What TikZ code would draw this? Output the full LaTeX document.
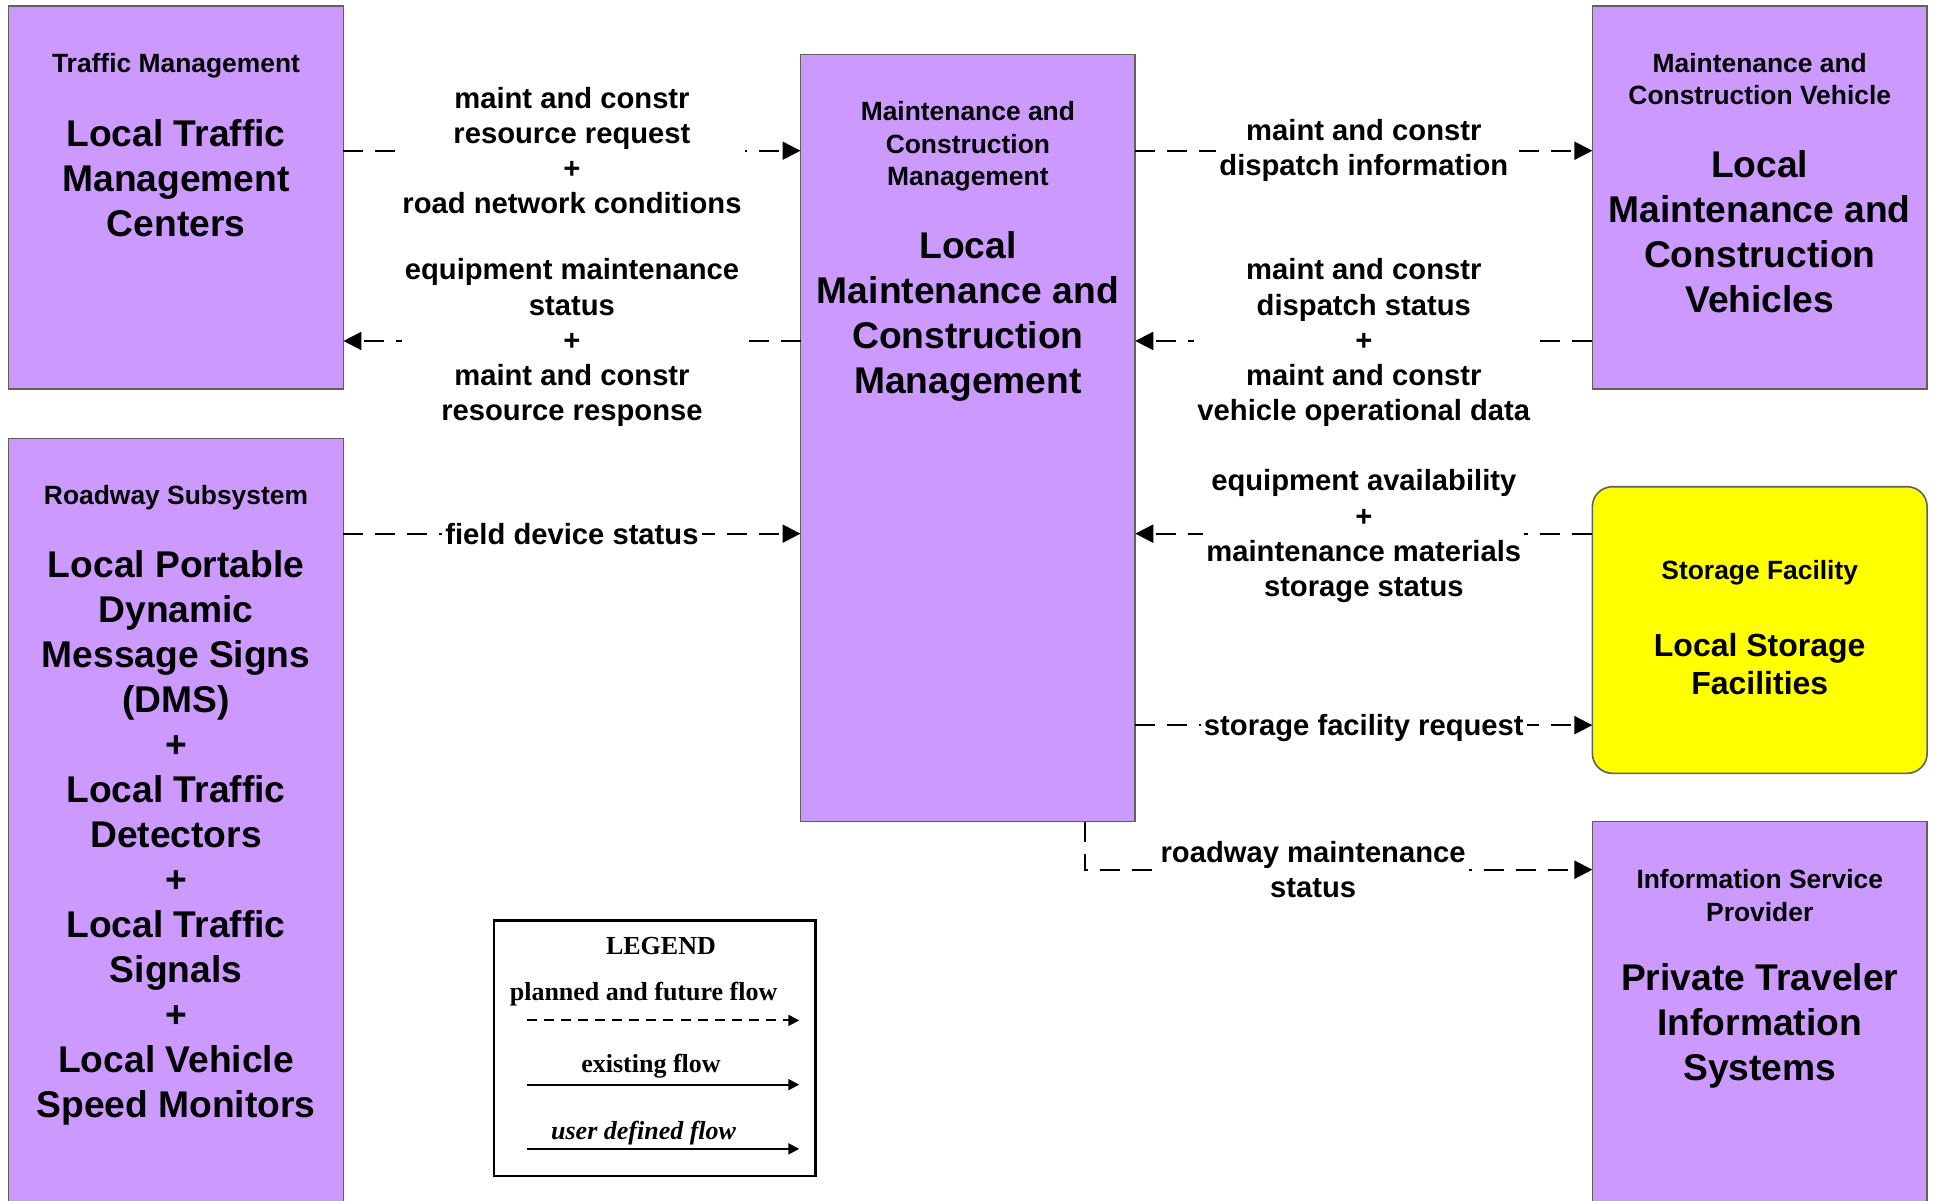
\documentclass[tikz,border=0pt]{standalone}
\usepackage{fontspec}
\setmainfont{Liberation Sans}
\newfontfamily\legfont{Liberation Serif}
\usetikzlibrary{arrows.meta,calc}
\definecolor{boxpurple}{RGB}{204,153,255}
\definecolor{boxyellow}{RGB}{255,255,0}
\definecolor{boxedge}{RGB}{96,96,96}
\begin{document}
\begin{tikzpicture}[x=0.61765pt,y=-0.61765pt,
  box/.style={draw=boxedge,line width=0.8pt,fill=boxpurple,inner sep=0pt,outer sep=0pt,minimum width=271*0.61765pt},
  smallt/.style={font=\fontsize{13.2}{16.1}\selectfont\bfseries,align=center,inner sep=0pt},
  bigt/.style={font=\fontsize{18.6}{22.5}\selectfont\bfseries,align=center,inner sep=0pt},
  midt/.style={font=\fontsize{16}{19.1}\selectfont\bfseries,align=center,inner sep=0pt},
  lbl/.style={font=\fontsize{14.6}{17.6}\selectfont\bfseries,align=center,fill=white,inner sep=1.5pt},
  flow/.style={line width=1.1pt,dash pattern=on 10pt off 6pt,-{Triangle[length=9pt,width=9pt]}},
  legtxt/.style={font=\legfont\fontsize{13}{15}\selectfont\bfseries,inner sep=0pt},
  legflow/.style={line width=1pt,-{Triangle[length=5.5pt,width=5.5pt]}},
]
\useasboundingbox (0,0) rectangle (1568,972);

% boxes
\node[box,minimum height=310*0.61765pt] (tmc) at (142.5,160) {};
\node[box,minimum height=621*0.61765pt] (mcm) at (783.5,354.5) {};
\node[box,minimum height=310*0.61765pt] (mcv) at (1424.5,160) {};
\node[box,minimum height=635*0.61765pt] (rs) at (142.5,672.5) {};
\node[box,fill=boxyellow,rounded corners=10pt,minimum height=232*0.61765pt] (sf) at (1424.5,510) {};
\node[box,minimum height=325*0.61765pt] (isp) at (1424.5,827.5) {};

% box texts
\node[smallt] (tmcs) at (142.5,53) {Traffic Management};
\node[bigt] (tmcb) at (142.5,144) {Local Traffic\\Management\\Centers};
\node[smallt] (mcms) at (783.5,118.5) {Maintenance and\\Construction\\Management};
\node[bigt] (mcmb) at (783.5,256.5) {Local\\Maintenance and\\Construction\\Management};
\node[smallt] (mcvs) at (1424.5,64) {Maintenance and\\Construction Vehicle};
\node[bigt] (mcvb) at (1424.5,187.5) {Local\\Maintenance and\\Construction\\Vehicles};
\node[smallt] (rss) at (142.5,403) {Roadway Subsystem};
\node[bigt] (rsb) at (142.5,678.5) {Local Portable\\Dynamic\\Message Signs\\(DMS)\\+\\Local Traffic\\Detectors\\+\\Local Traffic\\Signals\\+\\Local Vehicle\\Speed Monitors};
\node[smallt] (sfs) at (1424.5,464) {Storage Facility};
\node[midt] (sfb) at (1424.5,537.5) {Local Storage\\Facilities};
\node[smallt] (isps) at (1424.5,725) {Information Service\\Provider};
\node[bigt] (ispb) at (1424.5,830.5) {Private Traveler\\Information\\Systems};

% flows
\draw[flow] (tmc.east |- 0,122) -- node[lbl] (l1) {maint and constr\\resource request\\+\\road network conditions} (mcm.west |- 0,122);
\draw[flow] (mcm.west |- 0,276) -- node[lbl,yshift=-1.5*0.61765pt] (l2) {equipment maintenance\\status\\+\\maint and constr\\resource response} (tmc.east |- 0,276);
\draw[flow] (rs.east |- 0,432) -- node[lbl] (l3) {field device status} (mcm.west |- 0,432);
\draw[flow] (mcm.east |- 0,122) -- node[lbl] (l4) {maint and constr\\dispatch information} (mcv.west |- 0,122);
\draw[flow] (mcv.west |- 0,276) -- node[lbl,yshift=-1.5*0.61765pt] (l5) {maint and constr\\dispatch status\\+\\maint and constr\\vehicle operational data} (mcm.east |- 0,276);
\draw[flow] (sf.west |- 0,432) -- node[lbl,yshift=-2*0.61765pt] (l6) {equipment availability\\+\\maintenance materials\\storage status} (mcm.east |- 0,432);
\draw[flow] (mcm.east |- 0,587) -- node[lbl,yshift=-2*0.61765pt] (l7) {storage facility request} (sf.west |- 0,587);
\draw[flow] (mcm.south -| 878,0) |- node[lbl,pos=0.725] (l8) {roadway maintenance\\status} (isp.west |- 0,704);

% legend
\node[draw,line width=1.2pt,inner sep=0pt,minimum width=260*0.61765pt,minimum height=207*0.61765pt] (legend) at (530,848.5) {};
\node[legtxt] (lgt) at (535,766) {LEGEND};
\node[legtxt] (lg1) at (521,805) {planned and future flow};
\coordinate (la1) at (427,826); \coordinate (lb1) at (647,826);
\draw[legflow,dash pattern=on 5pt off 3.5pt] (la1) -- (lb1);
\node[legtxt] (lg2) at (527,863) {existing flow};
\coordinate (la2) at (427,878); \coordinate (lb2) at (647,878);
\draw[legflow] (la2) -- (lb2);
\node[legtxt,font=\legfont\fontsize{13}{15}\selectfont\bfseries\itshape] (lg3) at (521,917) {user defined flow};
\coordinate (la3) at (427,930); \coordinate (lb3) at (647,930);
\draw[legflow] (la3) -- (lb3);
\end{tikzpicture}
\end{document}
